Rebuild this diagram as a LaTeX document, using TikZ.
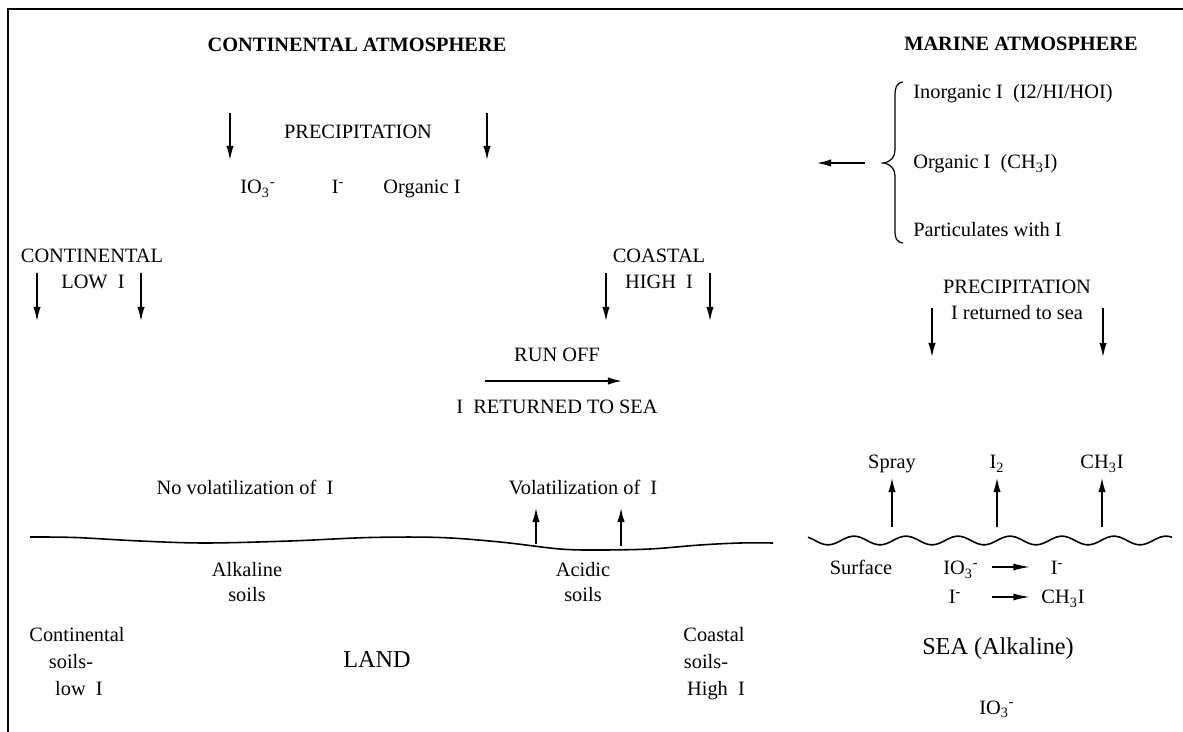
\documentclass[tikz,border=0pt]{standalone}
\usepackage{fontspec}
\setmainfont{Liberation Serif}
\usetikzlibrary{arrows.meta}
\tikzset{
  txt/.style={font=\fontsize{11.6}{14}\selectfont, inner sep=0pt, anchor=base},
  hdr/.style={font=\fontsize{11.6}{14}\selectfont\bfseries, inner sep=0pt, anchor=base},
  big/.style={font=\fontsize{13.8}{17}\selectfont, inner sep=0pt, anchor=base},
  lft/.style={txt, anchor=base west},
  arr/.style={-{Latex[length=8pt,width=4.2pt]}, line width=0.8pt},
  sarr/.style={-{Latex[length=9.5pt,width=4pt]}, line width=0.8pt},
  frame/.style={line width=1.1pt},
  ground/.style={line width=0.9pt}
}
\begin{document}
\begin{tikzpicture}[x=0.02cm, y=-0.02cm]
\useasboundingbox (0,0) rectangle (1183,732);
% frame
\coordinate (fTR) at (1183,9);
\coordinate (fTL) at (8,9);
\coordinate (fBL) at (8,732);
\draw[frame] (fTR) -- (fTL) -- (fBL);

% ---------------- continental atmosphere
\node[hdr] (hdrC) at (357,52) {CONTINENTAL ATMOSPHERE};
\node[txt] (prc1) at (358,139) {PRECIPITATION};
\coordinate (a1s) at (230,113); \coordinate (a1e) at (230,160);
\coordinate (a2s) at (487,113); \coordinate (a2e) at (487,160);
\draw[arr] (a1s) -- (a1e);
\draw[arr] (a2s) -- (a2e);
\node[txt] (io3a) at (258,194) {IO\textsubscript{3}\textsuperscript{-}};
\node[txt] (imA) at (338,194) {I\textsuperscript{-}};
\node[txt] (orgA) at (422,194) {Organic I};

% ---------------- marine atmosphere
\node[hdr] (hdrM) at (1021,51) {MARINE ATMOSPHERE};
\node[lft] (inorg) at (913,99) {Inorganic I\ \ (I2/HI/HOI)};
\node[lft] (orgM) at (913,169) {Organic I\ \ (CH\textsubscript{3}I)};
\node[lft] (part) at (913,237) {Particulates with I};
\coordinate (brT) at (903,82);
\coordinate (brTip) at (883,163);
\coordinate (brB) at (903,243);
\draw[line width=0.7pt] (brT) .. controls (896,83) and (895,88) .. (895,96) -- (895,150)
  .. controls (895,157) and (891,162) .. (brTip)
  .. controls (891,164) and (895,169) .. (895,176) -- (895,230)
  .. controls (895,238) and (896,242) .. (brB);
\coordinate (bas) at (865,163); \coordinate (bae) at (817,163);
\draw[arr] (bas) -- (bae);

% ---------------- continental low I
\node[txt] (cont) at (92,263) {CONTINENTAL};
\node[txt] (lowI) at (93,289) {LOW\ \ I};
\coordinate (c1s) at (37,273); \coordinate (c1e) at (37,321);
\coordinate (c2s) at (141,273); \coordinate (c2e) at (141,321);
\draw[arr] (c1s) -- (c1e);
\draw[arr] (c2s) -- (c2e);

% ---------------- coastal high I
\node[txt] (coast) at (659,263) {COASTAL};
\node[txt] (highI) at (659,289) {HIGH\ \ I};
\coordinate (h1s) at (606,273); \coordinate (h1e) at (606,321);
\coordinate (h2s) at (710,273); \coordinate (h2e) at (710,321);
\draw[arr] (h1s) -- (h1e);
\draw[arr] (h2s) -- (h2e);

% ---------------- run off
\node[txt] (runoff) at (557,362) {RUN OFF};
\coordinate (rs) at (485,381); \coordinate (re) at (622,381);
\draw[arr] (rs) -- (re);
\node[txt] (iret) at (557,414) {I\ \ RETURNED TO SEA};

% ---------------- volatilization
\node[txt] (novol) at (245,495) {No volatilization of\ \ I};
\node[txt] (vol) at (583,495) {Volatilization of\ \ I};
\coordinate (v1s) at (536,544); \coordinate (v1e) at (536,508);
\coordinate (v2s) at (621,546); \coordinate (v2e) at (621,508);
\draw[arr] (v1s) -- (v1e);
\draw[arr] (v2s) -- (v2e);

% land surface
\draw[ground] plot[smooth, tension=0.55] coordinates
  {(30,537) (75,537.5) (140,541) (205,543) (290,541) (370,537.5) (440,537.5)
   (500,542) (560,549) (600,550) (650,549) (700,545) (740,543) (773,543)};

% ---------------- soils
\node[txt] (alk) at (247,577) {Alkaline};
\node[txt] (alks) at (247,602) {soils};
\node[txt] (acid) at (583,577) {Acidic};
\node[txt] (acids) at (583,602) {soils};

\node[txt] (cs1) at (77,642) {Continental};
\node[txt] (cs2) at (71,668) {soils-};
\node[txt] (cs3) at (79,695) {low\ \ I};
\node[big] (land) at (377,667) {LAND};
\node[txt] (ks1) at (714,642) {Coastal};
\node[txt] (ks2) at (706,668) {soils-};
\node[txt] (ks3) at (716,695) {High\ \ I};

% ---------------- marine precipitation
\node[txt] (prc2) at (1017,294) {PRECIPITATION};
\node[txt] (iret2) at (1017,320) {I returned to sea};
\coordinate (m1s) at (932,308); \coordinate (m1e) at (932,357);
\coordinate (m2s) at (1103,308); \coordinate (m2e) at (1103,357);
\draw[arr] (m1s) -- (m1e);
\draw[arr] (m2s) -- (m2e);

% ---------------- emissions from sea
\node[txt] (spray) at (892,469) {Spray};
\node[txt] (i2) at (997,469) {I\textsubscript{2}};
\node[txt] (ch3i) at (1102,469) {CH\textsubscript{3}I};
\coordinate (u1s) at (892,527); \coordinate (u1e) at (892,478);
\coordinate (u2s) at (997,527); \coordinate (u2e) at (997,478);
\coordinate (u3s) at (1102,527); \coordinate (u3e) at (1102,478);
\draw[arr] (u1s) -- (u1e);
\draw[arr] (u2s) -- (u2e);
\draw[arr] (u3s) -- (u3e);

% sea surface
\draw[ground] plot[domain=808:1172, samples=240, smooth] (\x, {540.5+4.3*sin(6.9231*(\x-815))});

% ---------------- sea chemistry
\node[txt] (surf) at (861,575) {Surface};
\node[txt] (io3b) at (961,575) {IO\textsubscript{3}\textsuperscript{-}};
\node[txt] (imB) at (1057,575) {I\textsuperscript{-}};
\coordinate (s1s) at (992,567); \coordinate (s1e) at (1030,567);
\draw[sarr] (s1s) -- (s1e);
\node[txt] (imC) at (955,604) {I\textsuperscript{-}};
\node[txt] (ch3iB) at (1063,604) {CH\textsubscript{3}I};
\coordinate (s2s) at (992,597); \coordinate (s2e) at (1030,597);
\draw[sarr] (s2s) -- (s2e);

\node[big] (sea) at (998,655) {SEA (Alkaline)};
\node[txt] (io3c) at (997,714) {IO\textsubscript{3}\textsuperscript{-}};
\end{tikzpicture}
\end{document}
